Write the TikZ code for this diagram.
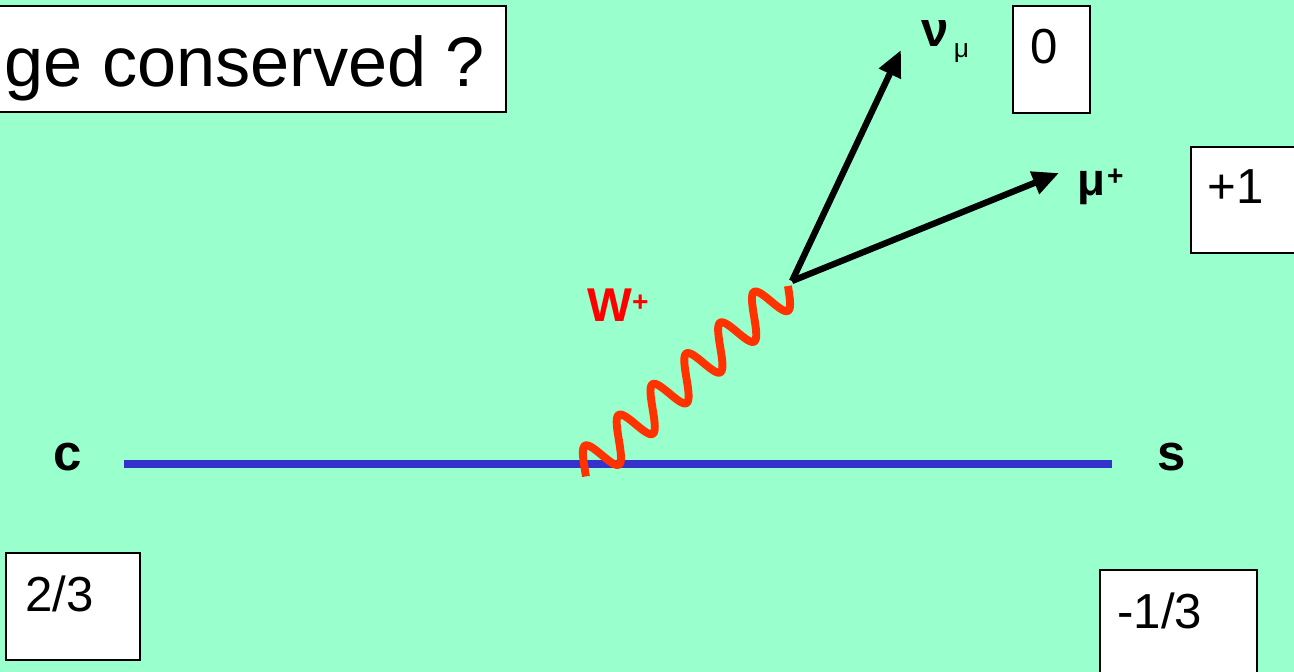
\documentclass[tikz,border=0pt]{standalone}
\usepackage{fontspec}
\setmainfont{Liberation Sans}
\usetikzlibrary{arrows.meta}
\definecolor{slidebg}{RGB}{153,255,204}
\definecolor{quarkblue}{RGB}{51,51,204}
\definecolor{bosonred}{RGB}{255,51,0}
\newcommand{\chgsup}[1]{\raisebox{5.5pt}{\fontsize{16}{16}\selectfont #1}}
\newcommand{\chgsub}[1]{\raisebox{-5.7pt}{\fontsize{15}{15}\selectfont #1}}

\begin{document}
\begin{tikzpicture}[x=0.02cm, y=-0.02cm,
    chgbox/.style={rectangle, draw=black, fill=white, line width=1.2pt, anchor=north west, inner sep=0pt},
    chgtxt/.style={inner sep=0pt, anchor=base west, font=\fontsize{28}{34}\selectfont},
    quark/.style={quarkblue, line width=4.5pt},
    lepton/.style={black, line width=3.6pt, -{Triangle[length=15pt, width=13pt]}},
    wboson/.style={bosonred, line width=4.5pt, line cap=butt},
    plabel/.style={inner sep=0pt, anchor=base, font=\fontsize{29}{34}\selectfont\bfseries},
]
    \useasboundingbox (0,0) rectangle (1294,672);
    \fill[slidebg] (0,0) rectangle (1294,672);
    \clip (0,0) rectangle (1294,672);

    % charge boxes
    \node[chgbox, minimum width=10.5cm, minimum height=2.12cm] (qbox) at (-20,5) {};
    \node[inner sep=0pt, anchor=base east, font=\fontsize{40}{48}\selectfont] (qtxt) at (485.5,87) {ge conserved ?};
    \node[chgbox, minimum width=1.54cm, minimum height=2.14cm] (nubox) at (1012,5) {};
    \node[chgtxt] (nutxt) at (1030,64) {0};
    \node[chgbox, minimum width=2.4cm, minimum height=2.12cm] (mubox) at (1190,146) {};
    \node[chgtxt] (mutxt) at (1207,204) {+1};
    \node[chgbox, minimum width=2.68cm, minimum height=2.14cm] (cbox) at (5,552) {};
    \node[chgtxt] (ctxt) at (25,611) {2/3};
    \node[chgbox, minimum width=3.14cm, minimum height=2.42cm] (sbox) at (1099,569) {};
    \node[chgtxt] (stxt) at (1117,628) {-1/3};

    % vertices
    \coordinate (qin) at (124,464);
    \coordinate (qout) at (1112,464);
    \coordinate (wq) at (585,470.5);
    \coordinate (wl) at (792,281);
    \coordinate (nutip) at (901,50);
    \coordinate (mutip) at (1059,173);

    % particle labels
    \node[plabel] (clab) at (68,470) {c};
    \node[plabel] (slab) at (1172,470) {s};
    \node[plabel, anchor=base west, font=\fontsize{27}{32}\selectfont\bfseries, text=red] (wlab) at (587,321) {W\chgsup{+}};
    \node[plabel, anchor=base west, font=\fontsize{28}{32}\selectfont\bfseries] (nulab) at (921,47) {ν\kern3pt\chgsub{\mdseries μ}};
    \node[plabel, anchor=base west, font=\fontsize{26}{32}\selectfont\bfseries] (mulab) at (1077,195) {μ\kern1pt\chgsup{+}};

    % lines
    \draw[quark] (qin) -- (qout);
    \begin{scope}[shift={(wq)}]
        \draw[wboson] plot[domain=-2:274.2, samples=300, smooth] ({0.74*\x - 8.93*sin(7.877*\x)}, {-0.673*\x - 16.8*sin(7.877*\x)});
    \end{scope}
    \draw[lepton] (wl) -- (nutip);
    \draw[lepton] (wl) -- (mutip);
\end{tikzpicture}
\end{document}
